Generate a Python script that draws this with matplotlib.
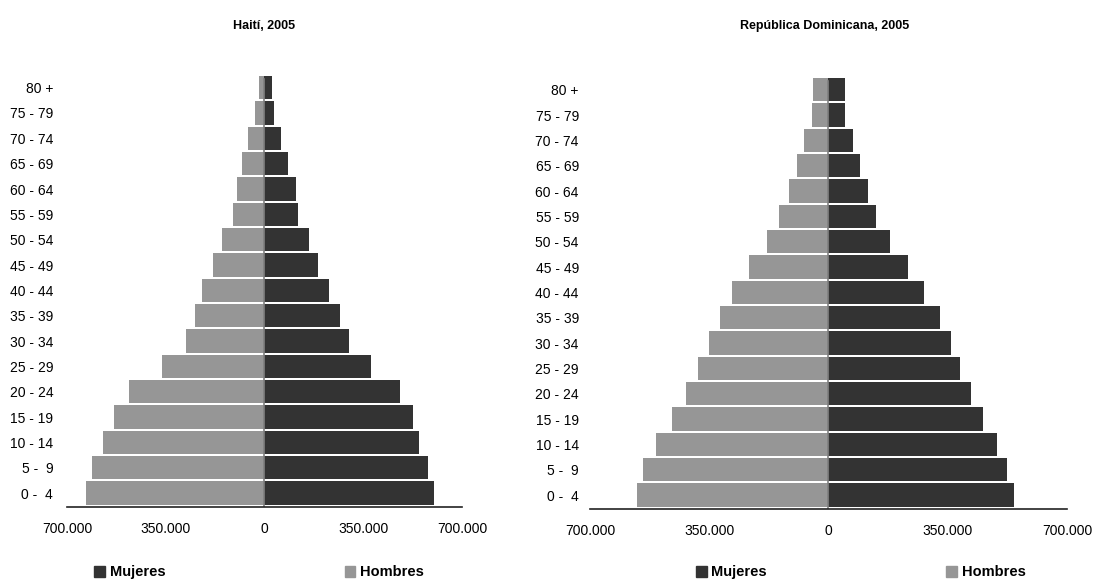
"""
Pirámides de población 2005: Haití y República Dominicana.
Hombres a la izquierda (gris), mujeres a la derecha (oscuro).
"""
import numpy as np
import matplotlib.pyplot as plt
from matplotlib.patches import Patch
from matplotlib.ticker import FuncFormatter

plt.rcParams['font.family'] = ['Liberation Sans', 'DejaVu Sans']

# Grupos de edad, de abajo hacia arriba
age_groups = ['0 -  4', '5 -  9', '10 - 14', '15 - 19', '20 - 24', '25 - 29',
              '30 - 34', '35 - 39', '40 - 44', '45 - 49', '50 - 54', '55 - 59',
              '60 - 64', '65 - 69', '70 - 74', '75 - 79', '80 +']

# Haití, 2005 (personas)
haiti_hombres = [634000, 610000, 574000, 535000, 482000, 362000, 280000, 248000,
                 220000, 181000, 152000, 113000, 99000, 78000, 57000, 35000, 21000]
haiti_mujeres = [602000, 581000, 549000, 525000, 482000, 376000, 298000, 266000,
                 230000, 188000, 156000, 117000, 110000, 85000, 60000, 35000, 25000]

# República Dominicana, 2005 (personas)
rd_hombres = [561000, 545000, 506000, 460000, 418000, 383000, 351000, 319000,
              283000, 234000, 180000, 145000, 115000, 93000, 72000, 48000, 45000]
rd_mujeres = [546000, 524000, 495000, 454000, 419000, 386000, 360000, 327000,
              281000, 234000, 181000, 140000, 116000, 93000, 72000, 48000, 48000]

x_ticks = [-700000, -350000, 0, 350000, 700000]

DARK = '#333333'
GRAY = '#969696'


def thousands(v, pos):
    return '{:,.0f}'.format(abs(v)).replace(',', '.')


def pyramid(ax, hombres, mujeres, label_pad):
    y = np.arange(len(age_groups))
    ax.barh(y, -np.array(hombres), height=0.92, color=GRAY, edgecolor='none')
    ax.barh(y, mujeres, height=0.92, color=DARK, edgecolor='none')
    ax.axvline(0, ymax=0.99, color='#808080', lw=1.2)

    ax.set_xlim(-700000, 700000)
    ax.set_ylim(-0.55, 16.5)
    ax.set_xticks(x_ticks)
    ax.xaxis.set_major_formatter(FuncFormatter(thousands))
    ax.set_yticks(y)
    ax.set_yticklabels(age_groups)

    for side in ['top', 'right', 'left']:
        ax.spines[side].set_visible(False)
    ax.spines['bottom'].set_color('#222222')
    ax.spines['bottom'].set_linewidth(1.2)
    ax.tick_params(axis='x', length=0, pad=11, labelsize=10)
    ax.tick_params(axis='y', length=0, pad=label_pad, labelsize=10)


fig = plt.figure(figsize=(10.95, 5.8), dpi=100)
ax1 = fig.add_axes([0.0612, 0.1259, 0.3607, 0.7448])
ax2 = fig.add_axes([0.5388, 0.1224, 0.4356, 0.7448])

pyramid(ax1, haiti_hombres, haiti_mujeres, label_pad=10)
pyramid(ax2, rd_hombres, rd_mujeres, label_pad=8)

fig.text(0.2411, 0.955, 'Haití, 2005', ha='center', va='center',
         fontsize=9, fontweight='bold')
fig.text(0.7535, 0.955, 'República Dominicana, 2005', ha='center', va='center',
         fontsize=9, fontweight='bold')

# Leyendas bajo cada pirámide
handles = [Patch(color=DARK, label='Mujeres'), Patch(color=GRAY, label='Hombres')]
for xc in [0.2365, 0.786]:
    fig.legend(handles=handles, ncol=2, loc='center', bbox_to_anchor=(xc, 0.013),
               frameon=False, handlelength=0.75, handleheight=0.75,
               handletextpad=0.3, columnspacing=12.3,
               prop={'size': 10.5, 'weight': 'bold'})

fig.savefig('out.png', dpi=100)
